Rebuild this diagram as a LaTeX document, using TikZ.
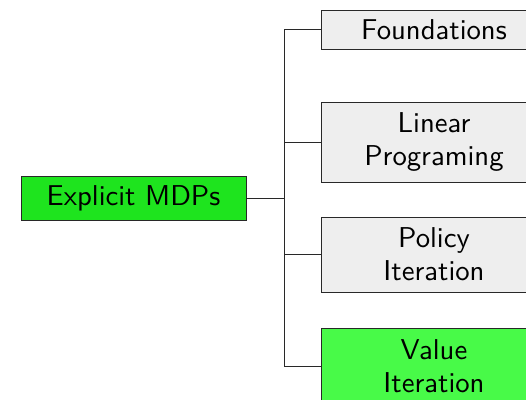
\documentclass[tikz,border=0pt]{standalone}
\usepackage{fontspec}
\newfontfamily\lmsten{lmsans10-regular.otf}
\definecolor{rootgreen}{RGB}{30,228,30}
\definecolor{leafgreen}{RGB}{72,250,72}
\definecolor{leafgray}{RGB}{238,238,238}
\definecolor{linecol}{RGB}{40,40,40}
\tikzset{
  box/.style={draw=linecol, line width=0.9pt, inner sep=0pt, align=center,
    font=\lmsten\fontsize{28.7}{33}\selectfont},
  rootbox/.style={box, fill=rootgreen, minimum width=225pt, minimum height=44pt},
  leaf/.style={box, fill=leafgray, minimum width=226pt},
  leafhi/.style={box, fill=leafgreen, minimum width=226pt},
  wire/.style={draw=linecol, line width=0.9pt}
}
\begin{document}
\begin{tikzpicture}[x=1pt,y=1pt]
\useasboundingbox (0,0) rectangle (526,399);
\clip (0,0) rectangle (526,399);
\node[rootbox] (root) at (133.5,201) {Explicit MDPs};
\node[leaf, minimum height=39pt] (f) at (434,369.5) {Foundations};
\node[leaf, minimum height=80pt] (lp) at (434,257) {Linear\\Programing};
\node[leaf, minimum height=75pt] (pi) at (434,144.5) {Policy\\Iteration};
\node[leafhi, minimum height=75pt] (vi) at (434,33) {Value\\Iteration};
\coordinate (j) at (284.5,201);
\draw[wire] (root.east) -- (j);
\draw[wire] (j) |- (f.west);
\draw[wire] (j) |- (lp.west);
\draw[wire] (j) |- (pi.west);
\draw[wire] (j) |- (vi.west);
\end{tikzpicture}
\end{document}
